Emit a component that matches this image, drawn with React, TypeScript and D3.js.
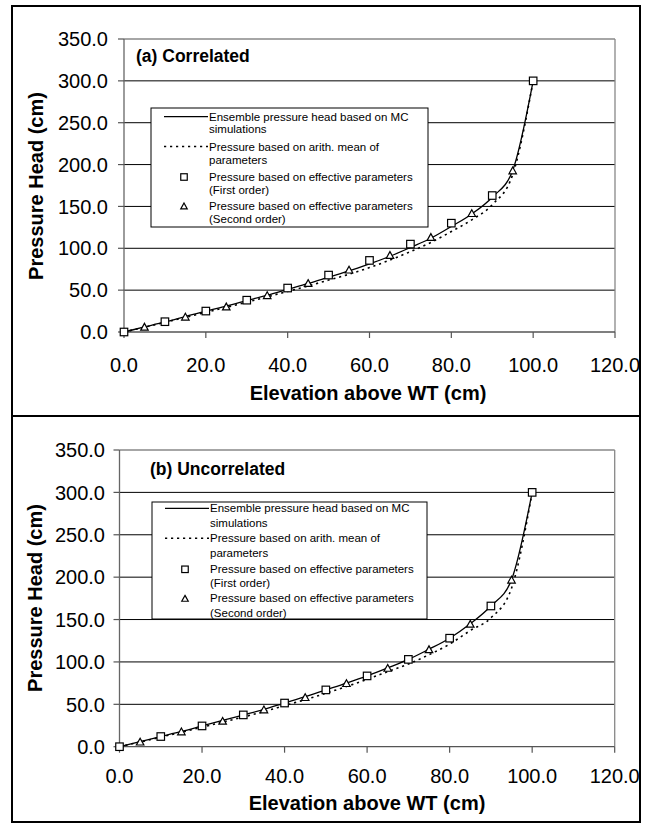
import React from "react";
import * as d3 from "d3";

// ---------- data ----------
const elevation = [0, 5, 10, 15, 20, 25, 30, 35, 40, 45, 50, 55, 60, 65, 70, 75, 80, 85, 90, 95, 100];
const mcCorrelated = [0, 6, 12, 18.5, 25, 31, 37.5, 44, 51, 58, 65.5, 73, 81.5, 90.5, 101, 112, 126, 141, 161, 193, 300];
const arithCorrelated = [0, 5.7, 11.6, 17.5, 23.5, 29.5, 35.5, 42, 48.5, 55, 62, 69, 77, 86, 96, 107, 120, 134, 152, 188, 300];
const firstOrderElev = [0, 10, 20, 30, 40, 50, 60, 70, 80, 90, 100];
const firstOrderCorrelated = [0, 12.3, 25, 38, 52.5, 68, 85.5, 105, 130, 163, 300];
const secondOrderElev = [5, 15, 25, 35, 45, 55, 65, 75, 85, 95];
const secondOrderCorrelated = [6.3, 18.3, 30.5, 44, 58.5, 74.5, 92, 113.5, 142, 193];

const mcUncorrelated = [0, 6, 12, 18, 24.5, 31, 37.5, 44, 51.5, 59, 67, 75, 83.5, 93, 103, 115, 128, 145, 166, 197, 300];
const arithUncorrelated = [0, 5.5, 11.3, 17, 23, 29, 35, 41.5, 48.5, 55.5, 63, 71, 79.5, 88.5, 97.5, 108.5, 121, 137, 152, 187, 300];
const firstOrderUncorrelated = [0, 12, 24.5, 37.5, 51.5, 67, 83.5, 103, 128, 166, 300];
const secondOrderUncorrelated = [6, 18, 30.5, 44, 58.5, 75, 93, 115, 145, 197];

const xTicks = [0, 20, 40, 60, 80, 100, 120];
const yTicks = [0, 50, 100, 150, 200, 250, 300, 350];
const legendLabels = [
  ["Ensemble pressure head based on MC", "simulations"],
  ["Pressure based on arith. mean of", "parameters"],
  ["Pressure based on effective parameters", "(First order)"],
  ["Pressure based on effective parameters", "(Second order)"],
];
const xTitle = "Elevation above WT (cm)";
const yTitle = "Pressure Head (cm)";

const FONT = "'Liberation Sans', Arial, Helvetica, sans-serif";

type PanelProps = {
  title: string;
  mc: number[];
  arith: number[];
  first: number[];
  second: number[];
  frame: { x: number; y: number; w: number; h: number };
  plot: { left: number; right: number; top: number; bottom: number };
  titlePos: { x: number; y: number };
  yLabelX: number;
  xLabelDy: number;
  xTitlePos: { x: number; y: number };
  yTitlePos: { x: number; y: number };
  legend: { x: number; y: number; w: number; h: number; rows: number[] };
};

function Square({ cx, cy, s }: { cx: number; cy: number; s: number }) {
  return <rect x={cx - s / 2} y={cy - s / 2} width={s} height={s} fill="white" stroke="#000" strokeWidth={1.2} />;
}
function Triangle({ cx, cy, s }: { cx: number; cy: number; s: number }) {
  const h = s * 0.9;
  const p = `${cx},${cy - h / 2} ${cx + s / 2},${cy + h / 2} ${cx - s / 2},${cy + h / 2}`;
  return <polygon points={p} fill="white" stroke="#000" strokeWidth={1.2} />;
}

function Panel(p: PanelProps) {
  const x = d3.scaleLinear().domain([0, 120]).range([p.plot.left, p.plot.right]);
  const y = d3.scaleLinear().domain([0, 350]).range([p.plot.bottom, p.plot.top]);
  const line = d3
    .line<[number, number]>()
    .x((d) => x(d[0]))
    .y((d) => y(d[1]))
    .curve(d3.curveMonotoneX);
  const mcPts = elevation.map((e, i) => [e, p.mc[i]] as [number, number]);
  const arPts = elevation.map((e, i) => [e, p.arith[i]] as [number, number]);
  const L = p.legend;
  return (
    <g>
      <rect x={p.frame.x} y={p.frame.y} width={p.frame.w} height={p.frame.h} fill="white" stroke="#000" strokeWidth={2} />
      {/* gridlines */}
      {yTicks.slice(1, -1).map((t) => (
        <line key={"g" + t} x1={p.plot.left} x2={p.plot.right} y1={y(t)} y2={y(t)} stroke="#000" strokeWidth={1} />
      ))}
      {/* plot border */}
      <line x1={p.plot.left} x2={p.plot.right} y1={p.plot.top} y2={p.plot.top} stroke="#888" strokeWidth={1.3} />
      <line x1={p.plot.right} x2={p.plot.right} y1={p.plot.top} y2={p.plot.bottom} stroke="#888" strokeWidth={1.3} />
      {/* axes */}
      <line x1={p.plot.left} x2={p.plot.left} y1={p.plot.top} y2={p.plot.bottom} stroke="#666" strokeWidth={1.3} />
      <line x1={p.plot.left} x2={p.plot.right} y1={p.plot.bottom} y2={p.plot.bottom} stroke="#555" strokeWidth={1.3} />
      {yTicks.map((t) => (
        <g key={"yt" + t}>
          <line x1={p.plot.left - 6} x2={p.plot.left} y1={y(t)} y2={y(t)} stroke="#555" strokeWidth={1.2} />
          <text x={p.yLabelX} y={y(t)} dy="0.36em" textAnchor="end" fontSize={20} fontFamily={FONT} fill="#000">
            {t.toFixed(1)}
          </text>
        </g>
      ))}
      {xTicks.map((t) => (
        <g key={"xt" + t}>
          <line x1={x(t)} x2={x(t)} y1={p.plot.bottom} y2={p.plot.bottom + 6} stroke="#555" strokeWidth={1.2} />
          <text x={x(t)} y={p.plot.bottom + p.xLabelDy} textAnchor="middle" fontSize={20} fontFamily={FONT} fill="#000">
            {t.toFixed(1)}
          </text>
        </g>
      ))}
      <text x={p.xTitlePos.x} y={p.xTitlePos.y} textAnchor="middle" fontSize={20} fontWeight="bold" fontFamily={FONT}>
        {xTitle}
      </text>
      <text
        transform={`translate(${p.yTitlePos.x},${p.yTitlePos.y}) rotate(-90)`}
        textAnchor="middle"
        fontSize={20}
        fontWeight="bold"
        fontFamily={FONT}
      >
        {yTitle}
      </text>
      <text x={p.titlePos.x} y={p.titlePos.y} fontSize={17.5} fontWeight="bold" fontFamily={FONT}>
        {p.title}
      </text>
      {/* curves */}
      <path d={line(arPts) || ""} fill="none" stroke="#000" strokeWidth={1.6} strokeDasharray="2.2 3.8" />
      <path d={line(mcPts) || ""} fill="none" stroke="#000" strokeWidth={1.3} />
      {firstOrderElev.map((e, i) => (
        <Square key={"s" + e} cx={x(e)} cy={y(p.first[i])} s={7.5} />
      ))}
      {secondOrderElev.map((e, i) => (
        <Triangle key={"t" + e} cx={x(e)} cy={y(p.second[i])} s={7.5} />
      ))}
      {/* legend */}
      <rect x={L.x} y={L.y} width={L.w} height={L.h} fill="white" stroke="#000" strokeWidth={1} />
      <line x1={L.x + 13} x2={L.x + 57} y1={L.rows[0]} y2={L.rows[0]} stroke="#000" strokeWidth={1.3} />
      <line x1={L.x + 13} x2={L.x + 57} y1={L.rows[2]} y2={L.rows[2]} stroke="#000" strokeWidth={1.6} strokeDasharray="2.2 3.8" />
      <Square cx={L.x + 33} cy={L.rows[4]} s={6.5} />
      <Triangle cx={L.x + 33} cy={L.rows[6]} s={6.5} />
      {legendLabels.map((pair, i) =>
        pair.map((s, j) => (
          <text
            key={"l" + i + j}
            x={L.x + 58}
            y={L.rows[i * 2 + j]}
            dy="0.35em"
            fontSize={11.5}
            fontFamily={FONT}
            fill="#000"
          >
            {s}
          </text>
        ))
      )}
    </g>
  );
}

export default function App() {
  return (
    <svg width={652} height={823} style={{ position: "absolute", left: 0, top: 0, display: "block", background: "white" }}>
      <rect x={0} y={0} width={652} height={823} fill="white" />
      <Panel
        title="(a) Correlated"
        mc={mcCorrelated}
        arith={arithCorrelated}
        first={firstOrderCorrelated}
        second={secondOrderCorrelated}
        frame={{ x: 12, y: 6, w: 628, h: 410 }}
        plot={{ left: 124, right: 615, top: 39, bottom: 332 }}
        titlePos={{ x: 136, y: 61.7 }}
        yLabelX={108}
        xLabelDy={39.7}
        xTitlePos={{ x: 368, y: 400 }}
        yTitlePos={{ x: 43, y: 186 }}
        legend={{ x: 151, y: 108, w: 277, h: 119, rows: [116.7, 129.3, 146.5, 159.5, 177, 190, 206, 219] }}
      />
      <Panel
        title="(b) Uncorrelated"
        mc={mcUncorrelated}
        arith={arithUncorrelated}
        first={firstOrderUncorrelated}
        second={secondOrderUncorrelated}
        frame={{ x: 12, y: 416, w: 628, h: 406 }}
        plot={{ left: 119.5, right: 614.7, top: 450, bottom: 746.7 }}
        titlePos={{ x: 150, y: 475 }}
        yLabelX={105}
        xLabelDy={36.3}
        xTitlePos={{ x: 367, y: 810 }}
        yTitlePos={{ x: 42, y: 598 }}
        legend={{ x: 152, y: 502, w: 275, h: 117, rows: [508.3, 523.3, 538.3, 553.3, 569.3, 583.3, 598.3, 612.5] }}
      />
    </svg>
  );
}
